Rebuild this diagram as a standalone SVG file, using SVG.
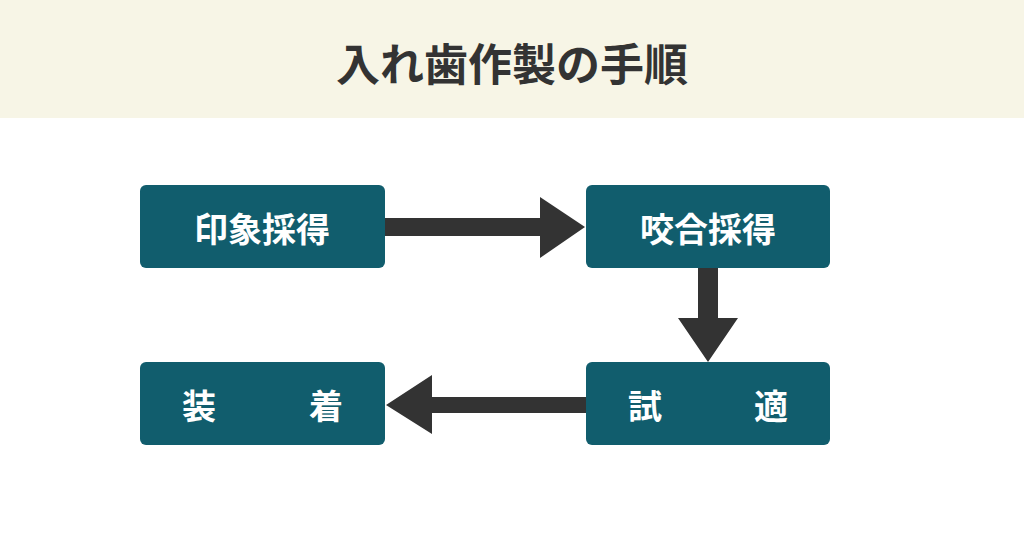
<svg xmlns="http://www.w3.org/2000/svg" width="1024" height="538" viewBox="0 0 1024 538">
<style>
.box{fill:#115d6d}
.t{fill:#fff;font-family:"Noto Sans CJK JP",sans-serif;font-weight:bold;font-size:34px;text-anchor:middle;dominant-baseline:central}
.arr{fill:#333}
</style>
<rect width="1024" height="538" fill="#fff"/>
<rect width="1024" height="118" fill="#f7f5e6"/>
<text x="512" y="62" fill="#333" font-family="'Noto Sans CJK JP',sans-serif" font-weight="bold" font-size="44" text-anchor="middle" dominant-baseline="central">入れ歯作製の手順</text>
<g id="connectors">
<polygon class="arr" points="385,218 540,218 540,197 585,227 540,258 540,236 385,236"/>
<polygon class="arr" points="698,268 718,268 718,318 738,318 708,362 678,318 698,318"/>
<polygon class="arr" points="586,397 432,397 432,375 386,405 432,434 432,413 586,413"/>
</g>
<g id="n1"><rect class="box" x="140" y="185" width="245" height="83" rx="6"/><text class="t" x="262" y="227">印象採得</text></g>
<g id="n2"><rect class="box" x="586" y="185" width="244" height="83" rx="6"/><text class="t" x="708" y="227">咬合採得</text></g>
<g id="n3"><rect class="box" x="586" y="362" width="244" height="83" rx="6"/><text class="t" y="404"><tspan x="645">試</tspan><tspan x="771">適</tspan></text></g>
<g id="n4"><rect class="box" x="140" y="362" width="245" height="83" rx="6"/><text class="t" y="404"><tspan x="199">装</tspan><tspan x="326">着</tspan></text></g>
</svg>
